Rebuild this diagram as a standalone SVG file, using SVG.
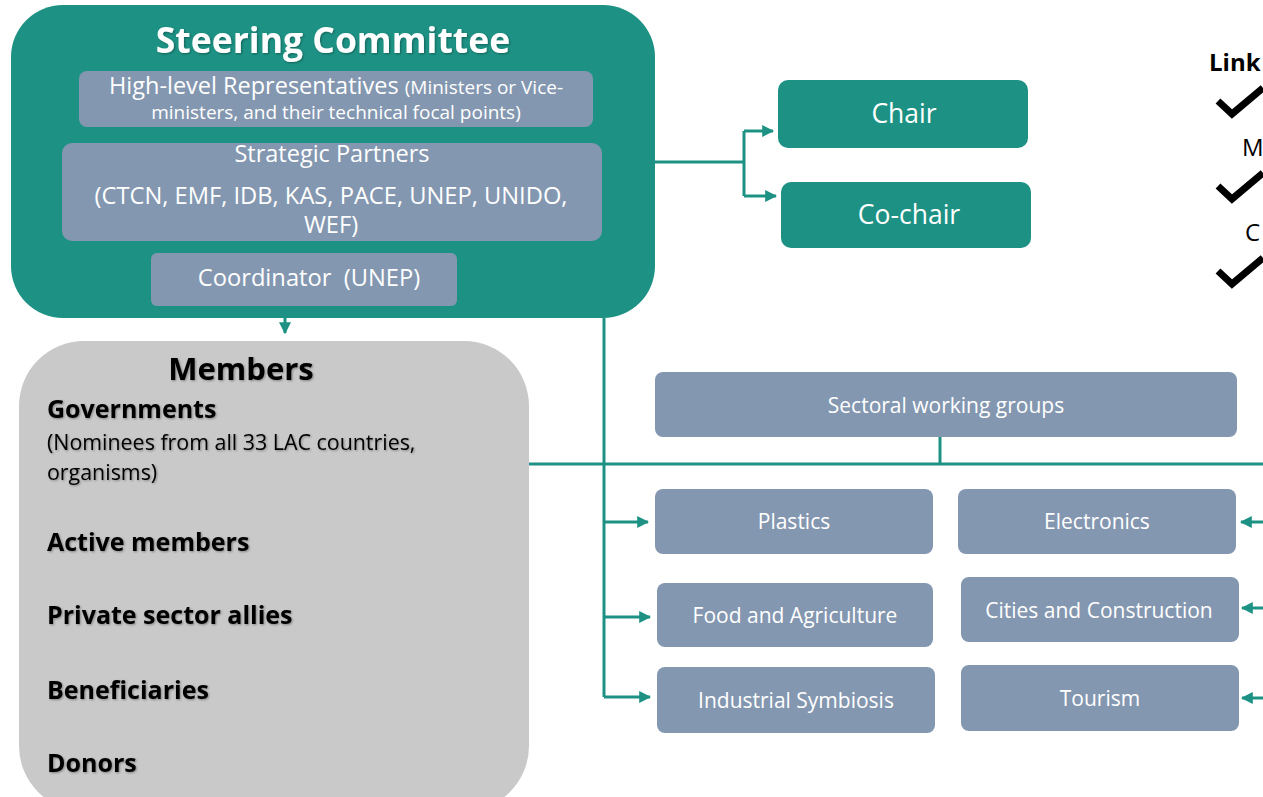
<svg xmlns="http://www.w3.org/2000/svg" width="1263" height="797" viewBox="0 0 1263 797">
<defs>
<style>
.teal{fill:#1d9284}
.blue{fill:#8497b0}
.w{fill:#ffffff;font-family:"Open Sans",Lato,sans-serif;text-anchor:middle}
.k{fill:#000000;font-family:"Open Sans",Lato,sans-serif}
.b{font-size:25px;font-weight:bold}
.lbl{font-size:21px}
.ln{stroke:#1d9284;stroke-width:3;fill:none}
</style>
<marker id="ah" viewBox="0 0 10 10" refX="9" refY="5" markerWidth="4" markerHeight="4" orient="auto">
<path d="M0,0 L10,5 L0,10 z" fill="#1d9284"/>
</marker>
<filter id="sh" x="-5%" y="-20%" width="110%" height="140%">
<feDropShadow dx="1" dy="1" stdDeviation="0.8" flood-color="#000" flood-opacity="0.35"/>
</filter>
</defs>
<rect width="1263" height="797" fill="#ffffff"/>

<g id="connectors">
<path class="ln" d="M655,162 H744 M744,131 V196" />
<path class="ln" d="M744,131 H773" marker-end="url(#ah)"/>
<path class="ln" d="M744,196 H776" marker-end="url(#ah)"/>
<path class="ln" d="M285,318 V333" marker-end="url(#ah)"/>
<path class="ln" d="M604,318 V697"/>
<path class="ln" d="M604,522 H648" marker-end="url(#ah)"/>
<path class="ln" d="M604,617 H650" marker-end="url(#ah)"/>
<path class="ln" d="M604,697 H650" marker-end="url(#ah)"/>
<path class="ln" d="M528,464 H1263 M940,437 V464"/>
<path class="ln" d="M1263,522 H1241" marker-end="url(#ah)"/>
<path class="ln" d="M1263,608 H1242" marker-end="url(#ah)"/>
<path class="ln" d="M1263,698 H1242" marker-end="url(#ah)"/>
</g>

<g id="steering-committee">
<rect class="teal" x="11" y="5" width="644" height="313" rx="52"/>
<text class="w" x="333" y="53" font-size="35.5" font-weight="bold" filter="url(#sh)">Steering Committee</text>
</g>
<g id="high-level">
<rect class="blue" x="79" y="71" width="514" height="56" rx="8"/>
<text class="w" x="336" y="94" font-size="23.5">High-level Representatives <tspan font-size="19">(Ministers or Vice-</tspan></text>
<text class="w" x="336" y="119" font-size="19">ministers, and their technical focal points)</text>
</g>
<g id="strategic-partners">
<rect class="blue" x="62" y="143" width="540" height="98" rx="10"/>
<text class="w" x="332" y="162" font-size="23.5">Strategic Partners</text>
<text class="w" x="331" y="204" font-size="23.7">(CTCN, EMF, IDB, KAS, PACE, UNEP, UNIDO,</text>
<text class="w" x="331" y="233" font-size="23.7">WEF)</text>
</g>
<g id="coordinator">
<rect class="blue" x="151" y="253" width="306" height="53" rx="6"/>
<text class="w" x="309" y="286" font-size="23.7">Coordinator&#160; (UNEP)</text>
</g>

<g id="chair">
<rect class="teal" x="778" y="80" width="250" height="68" rx="10"/>
<text class="w" x="904" y="123" font-size="26.5">Chair</text>
</g>
<g id="co-chair">
<rect class="teal" x="781" y="182" width="250" height="66" rx="10"/>
<text class="w" x="909" y="224" font-size="26.5">Co-chair</text>
</g>

<g id="members">
<rect x="19" y="341" width="510" height="470" rx="65" fill="#c9c9c9"/>
<g filter="url(#sh)">
<text class="k" x="241" y="380" font-size="31" font-weight="bold" text-anchor="middle">Members</text>
<text class="k b" x="47" y="418">Governments</text>
<text class="k" x="47" y="450" font-size="21.4">(Nominees from all 33 LAC countries,</text>
<text class="k" x="47" y="480" font-size="21.4">organisms)</text>
<text class="k b" x="47" y="551">Active members</text>
<text class="k b" x="47" y="624">Private sector allies</text>
<text class="k b" x="47" y="699">Beneficiaries</text>
<text class="k b" x="47" y="772">Donors</text>
</g>
</g>

<g id="sectoral-working-groups">
<rect class="blue" x="655" y="372" width="582" height="65" rx="8"/>
<text class="w lbl" x="946" y="413">Sectoral working groups</text>
</g>
<g id="plastics">
<rect class="blue" x="655" y="489" width="278" height="65" rx="8"/>
<text class="w lbl" x="794" y="529">Plastics</text>
</g>
<g id="electronics">
<rect class="blue" x="958" y="489" width="278" height="65" rx="8"/>
<text class="w lbl" x="1097" y="529">Electronics</text>
</g>
<g id="food-agriculture">
<rect class="blue" x="657" y="583" width="276" height="64" rx="8"/>
<text class="w lbl" x="795" y="623">Food and Agriculture</text>
</g>
<g id="cities-construction">
<rect class="blue" x="961" y="577" width="278" height="65" rx="8"/>
<text class="w lbl" x="1099" y="618">Cities and Construction</text>
</g>
<g id="industrial-symbiosis">
<rect class="blue" x="657" y="667" width="278" height="66" rx="8"/>
<text class="w lbl" x="796" y="708">Industrial Symbiosis</text>
</g>
<g id="tourism">
<rect class="blue" x="961" y="665" width="278" height="66" rx="8"/>
<text class="w lbl" x="1100" y="706">Tourism</text>
</g>

<g id="links-legend">
<text class="k" x="1209" y="71" font-size="24" font-weight="bold">Link</text>
<path d="M1218,101 L1232,114 L1263,88" stroke="#000" stroke-width="7" fill="none"/>
<text class="k" x="1242" y="156" font-size="24">M</text>
<path d="M1218,186 L1232,199 L1263,173" stroke="#000" stroke-width="7" fill="none"/>
<text class="k" x="1245" y="241" font-size="24">C</text>
<path d="M1218,271 L1232,284 L1263,258" stroke="#000" stroke-width="7" fill="none"/>
</g>
</svg>
